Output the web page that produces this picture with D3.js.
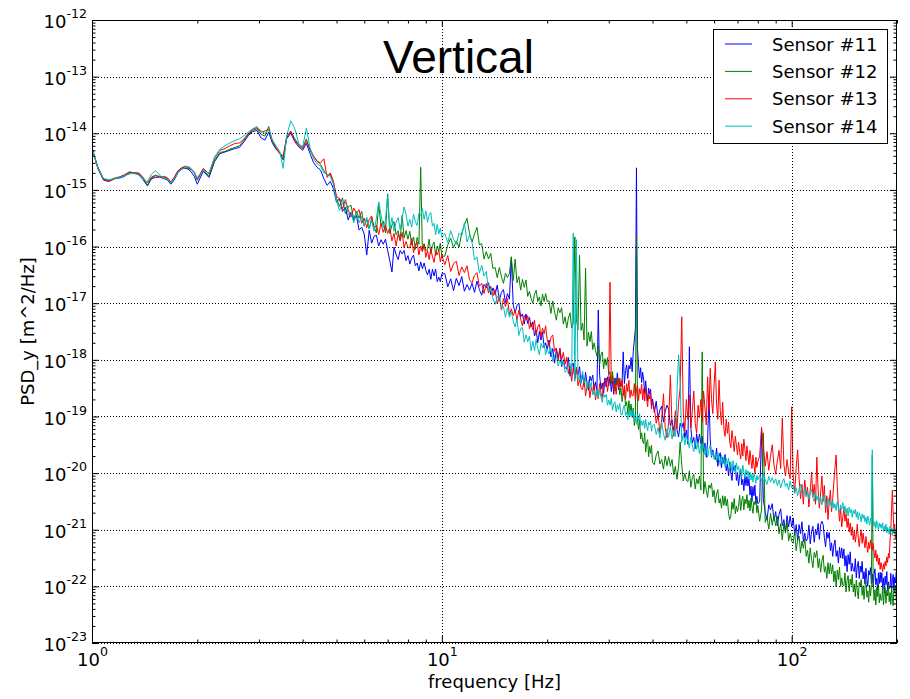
<!DOCTYPE html>
<html>
<head>
<meta charset="utf-8">
<script src="https://cdn.jsdelivr.net/npm/d3@7"></script>
<style>
  body { margin: 0; background: #fff; }
  svg { display: block; }
</style>
</head>
<body>
<svg id="chart" width="910" height="699"></svg>
<script>
// Frequency bins [Hz]
const freqHz = [
  1.00,1.04,1.08,1.12,1.16,1.20,1.24,1.28,1.32,1.36,1.40,1.44,1.48,1.52,1.56,1.60,1.64,1.68,1.72,1.76,1.80,1.84,1.88,1.92,1.96,2.00,
  2.08,2.16,2.24,2.32,2.40,2.48,2.56,2.64,2.72,2.80,2.88,2.96,3.04,3.12,3.20,3.28,3.36,3.44,3.52,3.60,
  3.7,3.8,3.9,4.0,4.1,4.2,4.3,4.4,4.5,4.6,4.7,4.8,4.9,5.0,
  5.1,5.2,5.3,5.4,5.5,5.6,5.7,5.8,5.9,6.0,6.1,6.2,6.3,6.4,6.5,6.6,6.7,6.8,6.9,7.0,
  7.1,7.2,7.3,7.4,7.5,7.6,7.7,7.8,7.9,8.0,8.1,8.2,8.3,8.4,8.5,8.6,8.7,8.8,8.9,9.0,
  9.1,9.2,9.3,9.4,9.5,9.6,9.7,9.8,9.9,10.0,
  10.2,10.4,10.6,10.8,11.0,11.2,11.4,11.6,11.8,12.0,12.2,12.4,12.6,12.8,13.0,13.2,13.4,13.6,13.8,14.0,
  14.2,14.4,14.6,14.8,15.0,15.2,15.4,15.6,15.8,16.0,16.2,16.4,16.6,16.8,17.0,17.2,17.4,17.6,17.8,18.0,
  18.2,18.4,18.6,18.8,19.0,19.2,19.4,19.6,19.8,20.0,
  20.25,20.5,20.75,21.0,21.25,21.5,21.75,22.0,22.25,22.5,22.75,23.0,23.25,23.5,23.75,24.0,24.25,24.5,24.75,25.0,
  25.25,25.5,25.75,26.0,26.25,26.5,26.75,27.0,27.25,27.5,27.75,28.0,28.25,28.5,28.75,29.0,29.25,29.5,29.75,30.0,
  30.25,30.5,30.75,31.0,31.25,31.5,31.75,32.0,32.25,32.5,32.75,33.0,33.25,33.5,33.75,34.0,34.25,34.5,34.75,35.0,
  35.25,35.5,35.75,36.0,36.25,36.5,36.75,37.0,37.25,37.5,37.75,38.0,38.25,38.5,38.75,39.0,39.25,39.5,39.75,40.0,
  40.5,41,41.5,42,42.5,43,43.5,44,44.5,45,45.5,46,46.5,47,47.5,48,48.5,49,49.5,50,
  50.5,51,51.5,52,52.5,53,53.5,54,54.5,55,55.5,56,56.5,57,57.5,58,58.5,59,59.5,60,
  60.5,61,61.5,62,62.5,63,63.5,64,64.5,65,65.5,66,66.5,67,67.5,68,68.5,69,69.5,70,
  70.5,71,71.5,72,72.5,73,73.5,74,74.5,75,75.5,76,76.5,77,77.5,78,78.5,79,79.5,80,
  81,82,83,84,85,86,87,88,89,90,91,92,93,94,95,96,97,98,99,100,
  101,102,103,104,105,106,107,108,109,110,111,112,113,114,115,116,117,118,119,120,
  121,122,123,124,125,126,127,128,129,130,131,132,133,134,135,136,137,138,139,140,
  141,142,143,144,145,146,147,148,149,150,151,152,153,154,155,156,157,158,159,160,
  161,162,163,164,165,166,167,168,169,170,171,172,173,174,175,176,177,178,179,180,
  181,182,183,184,185,186,187,188,189,190,191,192,193,194,195,196,197,198,199
];

// log10 of PSD_y [m^2/Hz], one value per frequency bin
const sensor11 = [
  -14.25,-14.63,-14.83,-14.85,-14.80,-14.79,-14.76,-14.69,-14.71,-14.73,-14.82,-14.93,-14.80,-14.78,-14.77,-14.80,-14.82,-14.90,-14.82,-14.70,-14.63,-14.62,-14.63,-14.68,-14.76,-14.90,
  -14.67,-14.78,-14.50,-14.36,-14.33,-14.30,-14.27,-14.25,-14.15,-14.04,-13.97,-13.95,-14.08,-14.12,-13.98,-14.18,-14.28,-14.35,-14.47,-14.10,
  -14.00,-14.15,-14.24,-14.30,-14.18,-14.36,-14.52,-14.60,-14.65,-14.80,-14.92,-14.85,-14.98,-15.22,
  -15.15,-15.38,-15.31,-15.53,-15.39,-15.54,-15.45,-15.71,-15.66,-15.78,-16.15,-15.71,-15.94,-15.82,-15.80,-15.99,-15.88,-15.96,-15.87,-16.07,
  -16.25,-16.45,-16.01,-16.14,-16.23,-16.07,-16.13,-16.07,-16.25,-16.16,-16.31,-16.20,-16.15,-16.34,-16.29,-16.43,-16.27,-16.39,-16.29,-16.42,
  -16.50,-16.40,-16.58,-16.40,-16.52,-16.40,-16.62,-16.54,-16.62,-16.48,
  -16.48,-16.71,-16.57,-16.78,-16.56,-16.69,-16.53,-16.79,-16.67,-16.77,-16.65,-16.81,-16.61,-16.76,-16.86,-16.67,-16.73,-16.64,-16.85,-16.73,
  -16.85,-16.68,-16.95,-16.81,-16.76,-16.99,-16.83,-16.93,-16.20,-17.04,-17.17,-17.04,-17.00,-17.24,-17.19,-17.37,-17.19,-17.36,-17.25,-17.42,
  -17.33,-17.58,-17.47,-17.70,-17.50,-17.65,-17.51,-17.79,-17.70,-17.82,
  -17.65,-17.95,-17.80,-18.06,-17.81,-17.98,-17.80,-18.12,-18.00,-18.14,-18.16,-17.96,-18.29,-18.11,-18.06,-18.34,-18.16,-18.27,-18.12,-18.41,
  -18.26,-18.47,-18.22,-18.41,-18.54,-18.29,-18.37,-18.27,-18.53,-18.39,-18.57,-17.12,-18.27,-18.52,-18.41,-18.59,-18.32,-18.48,-18.30,-18.46,
  -18.30,-18.56,-18.37,-18.61,-18.32,-18.45,-18.23,-18.53,-18.37,-18.47,-18.38,-17.86,-18.42,-18.19,-18.09,-18.33,-18.10,-18.16,-17.96,-18.21,
  -17.85,-17.65,-17.45,-14.61,-17.80,-18.10,-18.32,-18.14,-18.40,-18.22,-18.36,-18.59,-18.37,-18.58,-18.73,-18.50,-18.60,-18.52,-18.81,-18.69,
  -18.93,-18.73,-19.05,-18.88,-18.82,-19.10,-18.91,-18.80,-18.87,-19.16,-19.06,-19.27,-19.03,-19.23,-19.36,-19.12,-19.20,-19.11,-19.38,-19.24,
  -19.49,-17.77,-19.21,-19.47,-19.37,-19.57,-19.31,-19.48,-19.31,-19.48,-19.35,-19.63,-19.47,-19.72,-19.45,-18.62,-19.41,-19.72,-19.59,-19.71,
  -19.76,-19.56,-19.88,-19.70,-19.64,-19.91,-19.72,-19.83,-19.67,-19.96,-19.84,-20.05,-19.81,-20.00,-20.13,-19.88,-19.96,-19.86,-20.13,-19.99,
  -20.22,-20.03,-19.95,-20.21,-20.11,-20.31,-20.05,-20.22,-20.06,-20.23,-20.10,-20.39,-20.23,-20.50,-20.24,-20.40,-20.21,-20.54,-20.41,-20.54,
  -20.51,-19.24,-20.47,-20.69,-20.83,-20.56,-20.65,-20.54,-20.84,-20.68,-20.93,-20.73,-20.63,-20.93,-20.82,-21.04,-20.75,-20.95,-20.76,-20.95,
  -20.79,-21.10,-20.91,-21.20,-20.91,-21.07,-20.86,-21.21,-21.06,-21.20,-21.16,-20.92,-21.25,-21.03,-20.94,-21.22,-20.99,-21.09,-20.89,-21.17,
  -20.91,-20.85,-20.91,-21.14,-21.30,-21.04,-21.15,-21.05,-21.37,-21.23,-21.47,-21.27,-21.18,-21.47,-21.37,-21.59,-21.31,-21.50,-21.32,-21.51,
  -21.34,-21.64,-21.46,-21.74,-21.44,-21.61,-21.39,-21.73,-21.59,-21.72,-21.74,-21.51,-21.85,-21.64,-21.56,-21.86,-21.64,-21.75,-21.56,-21.87,
  -21.74,-21.96,-21.68,-21.87,-22.00,-21.72,-21.80,-21.67,-21.95,-21.78,-22.01,-21.79,-21.69,-21.97,-21.86,-22.06,-21.76,-21.95,-21.75,-21.93,
  -21.76,-22.05,-21.85,-22.12,-21.82,-21.97,-21.74,-22.07,-21.92,-22.04,-22.01,-21.77,-22.10,-21.88,-21.79,-22.07,-21.84,-21.94,-21.74
];
const sensor12 = [
  -14.28,-14.60,-14.81,-14.83,-14.79,-14.77,-14.74,-14.71,-14.69,-14.71,-14.79,-14.92,-14.79,-14.75,-14.76,-14.78,-14.79,-14.89,-14.79,-14.67,-14.61,-14.60,-14.62,-14.64,-14.70,-14.83,
  -14.64,-14.76,-14.48,-14.34,-14.32,-14.28,-14.25,-14.22,-14.12,-14.02,-13.95,-13.92,-14.02,-14.05,-13.88,-14.16,-14.27,-14.34,-14.45,-14.08,
  -13.97,-14.10,-14.20,-14.25,-14.10,-14.30,-14.42,-14.48,-14.55,-14.66,-14.74,-14.72,-14.88,-15.15,
  -15.29,-15.14,-15.42,-15.30,-15.27,-15.52,-15.38,-15.50,-15.38,-15.64,-15.52,-15.69,-15.49,-15.65,-15.76,-15.26,-15.63,-15.55,-15.76,-15.07,
  -15.77,-15.62,-15.56,-15.79,-15.72,-15.89,-15.45,-15.85,-15.72,-15.87,-15.73,-15.97,-15.83,-16.05,-15.84,-15.96,-14.60,-16.08,-15.96,-16.07,
  -16.05,-15.87,-16.13,-15.98,-15.92,-16.16,-15.99,-16.08,-15.94,-16.17,
  -16.17,-15.97,-15.85,-16.02,-15.90,-16.01,-15.76,-15.62,-15.50,-15.77,-15.92,-15.78,-15.66,-15.97,-15.95,-16.22,-16.09,-16.22,-16.12,-16.39,
  -16.37,-16.55,-16.37,-16.53,-16.65,-16.47,-16.55,-16.47,-16.18,-16.60,-16.22,-16.64,-16.53,-16.77,-16.58,-16.72,-16.59,-16.88,-16.79,-16.92,
  -17.00,-16.84,-16.77,-16.97,-16.89,-17.05,-16.84,-16.97,-16.83,-16.97,
  -16.96,-17.18,-16.96,-17.16,-17.30,-17.08,-17.17,-17.08,-17.37,-17.24,-17.44,-17.26,-17.17,-17.44,-17.35,-15.83,-17.29,-17.47,-16.15,-17.48,
  -17.35,-17.65,-16.38,-17.76,-17.51,-17.68,-17.50,-17.82,-17.70,-17.84,-17.93,-17.74,-18.08,-17.91,-17.86,-18.16,-17.98,-18.10,-17.96,-18.26,
  -18.21,-18.43,-18.21,-18.41,-18.55,-18.33,-18.42,-18.33,-18.62,-18.49,-18.74,-18.58,-18.52,-18.81,-18.74,-18.95,-18.72,-18.92,-18.78,-18.98,
  -18.85,-19.16,-19.02,-15.80,-19.06,-19.23,-19.06,-19.40,-19.29,-19.44,-19.48,-19.29,-19.63,-19.46,-19.41,-19.71,-19.53,-19.65,-19.51,-19.81,
  -19.85,-19.68,-19.61,-19.84,-19.76,-19.93,-19.70,-19.87,-19.71,-19.88,-19.76,-20.03,-19.88,-20.11,-19.88,-19.45,-19.85,-20.14,-20.01,-20.13,
  -20.15,-19.96,-20.25,-20.08,-20.02,-20.28,-20.10,-20.19,-20.05,-20.30,-17.86,-20.37,-20.15,-20.31,-20.43,-20.21,-20.27,-20.18,-20.42,-20.30,
  -20.53,-20.37,-20.29,-20.53,-20.45,-20.62,-20.40,-20.57,-20.41,-20.58,-20.46,-20.71,-20.82,-20.76,-20.51,-20.64,-20.45,-20.72,-20.58,-20.68,
  -20.59,-20.39,-20.66,-20.48,-20.41,-20.65,-20.46,-20.54,-20.38,-20.62,-20.48,-20.67,-20.44,-20.60,-20.71,-20.50,-20.56,-20.46,-20.70,-20.57,
  -20.85,-20.65,-19.29,-20.87,-20.77,-20.99,-20.71,-20.92,-20.74,-20.93,-20.76,-21.07,-20.89,-21.18,-20.89,-21.06,-20.85,-21.20,-21.06,-21.20,
  -21.24,-21.02,-21.37,-21.18,-21.11,-21.41,-21.20,-21.33,-21.15,-21.47,-21.36,-21.59,-21.32,-21.53,-21.67,-21.40,-21.49,-21.37,-21.67,-21.51,
  -21.75,-21.55,-21.45,-21.75,-21.65,-21.86,-21.58,-21.78,-21.59,-21.78,-21.62,-21.92,-21.73,-22.01,-21.71,-21.88,-21.66,-22.00,-21.85,-21.98,
  -21.99,-21.76,-22.10,-21.89,-21.81,-22.09,-21.87,-21.98,-21.79,-22.10,-21.96,-22.18,-21.89,-22.08,-22.22,-21.93,-22.00,-21.88,-22.16,-21.99,
  -22.23,-22.01,-21.90,-22.19,-22.08,-22.28,-21.98,-22.17,-21.97,-19.68,-21.96,-22.25,-22.06,-22.33,-22.02,-22.18,-21.95,-22.29,-22.13,-22.25,
  -22.24,-22.00,-22.33,-22.11,-22.02,-22.30,-22.07,-22.17,-21.97,-22.27,-22.11,-22.32,-22.03,-22.22,-22.34,-22.05,-22.12,-21.98,-22.26
];
const sensor13 = [
  -14.27,-14.61,-14.82,-14.84,-14.81,-14.77,-14.73,-14.68,-14.70,-14.70,-14.78,-14.88,-14.77,-14.74,-14.78,-14.76,-14.78,-14.86,-14.77,-14.66,-14.62,-14.58,-14.60,-14.63,-14.68,-14.80,
  -14.62,-14.72,-14.44,-14.30,-14.27,-14.22,-14.18,-14.17,-14.10,-14.00,-13.93,-13.90,-13.98,-13.96,-13.93,-14.13,-14.25,-14.36,-14.40,-14.06,
  -13.96,-14.12,-14.22,-14.27,-14.14,-14.28,-14.40,-14.50,-14.52,-14.45,-14.78,-14.70,-14.85,-15.12,
  -15.15,-15.34,-15.17,-15.35,-15.48,-15.32,-15.41,-15.35,-15.59,-15.50,-15.67,-15.52,-15.46,-15.69,-15.62,-15.79,-15.59,-15.75,-15.62,-15.77,
  -15.66,-15.90,-15.77,-15.99,-15.78,-15.90,-15.75,-16.02,-15.91,-16.02,-16.02,-15.85,-16.11,-15.97,-15.92,-16.15,-15.99,-16.09,-15.95,-16.19,
  -16.07,-16.23,-16.03,-16.18,-16.28,-16.09,-16.15,-16.06,-16.27,-16.15,
  -16.32,-16.16,-16.44,-16.30,-16.26,-16.51,-16.36,-16.46,-16.34,-16.59,-16.64,-16.51,-16.46,-16.70,-16.65,-16.83,-16.65,-16.82,-16.70,-16.87,
  -16.76,-17.01,-16.89,-17.12,-16.92,-17.06,-16.92,-17.20,-17.10,-17.22,-17.12,-17.30,-17.12,-17.28,-17.40,-17.22,-17.30,-17.22,-17.45,-17.35,
  -17.47,-17.30,-17.56,-17.42,-17.37,-17.60,-17.44,-17.54,-17.40,-17.64,
  -17.76,-17.61,-17.56,-17.85,-17.79,-18.02,-17.80,-18.00,-17.87,-18.08,-17.95,-18.25,-18.11,-18.38,-18.13,-18.31,-18.13,-18.46,-18.35,-18.49,
  -18.53,-18.33,-18.64,-18.46,-18.40,-18.67,-18.48,-18.59,-18.42,-18.71,-18.51,-18.69,-18.42,-18.58,-18.68,-18.40,-18.45,-18.32,-18.56,-18.39,
  -16.63,-18.39,-18.29,-18.54,-18.43,-18.61,-18.34,-18.50,-18.32,-18.48,-18.35,-18.63,-18.45,-18.70,-18.42,-18.56,-18.36,-18.67,-18.53,-18.64,
  -18.63,-18.42,-18.72,-18.53,-18.45,-18.72,-18.51,-18.60,-18.43,-18.71,-18.51,-18.73,-18.50,-18.69,-18.83,-18.60,-18.69,-18.59,-18.87,-18.74,
  -18.85,-19.12,-18.95,-19.30,-19.05,-18.60,-19.20,-19.38,-19.10,-18.27,-19.15,-19.35,-18.90,-19.22,-18.75,-18.50,-17.24,-18.95,-19.25,-18.70,
  -19.05,-18.62,-19.20,-18.90,-18.55,-19.12,-19.30,-18.80,-19.02,-18.70,-19.10,-18.55,-18.85,-19.15,-18.30,-18.90,-18.15,-18.70,-18.95,-18.45,
  -18.04,-18.80,-19.05,-18.36,-18.90,-19.15,-18.75,-19.22,-19.35,-19.05,-19.30,-19.10,-19.45,-19.55,-19.25,-19.42,-19.62,-19.35,-19.50,-19.68,
  -19.45,-19.62,-19.75,-19.48,-19.70,-19.40,-19.58,-19.78,-19.52,-19.70,-19.85,-19.60,-19.78,-19.92,-19.68,-19.86,-20.00,-19.72,-19.90,-19.80,
  -19.70,-19.19,-19.55,-19.88,-19.62,-19.95,-19.70,-19.50,-19.86,-20.02,-19.78,-19.60,-19.92,-19.03,-19.85,-20.05,-19.76,-19.98,-20.10,-18.83,
  -20.05,-20.35,-19.90,-19.59,-20.10,-20.45,-20.20,-20.55,-20.12,-20.40,-20.25,-20.60,-20.30,-19.98,-20.42,-20.20,-20.55,-19.72,-20.30,-20.62,
  -20.35,-20.05,-20.50,-20.22,-20.70,-20.40,-20.82,-20.52,-20.30,-20.68,-20.45,-20.15,-19.90,-19.68,-20.25,-20.60,-20.85,-20.62,-20.95,-20.78,
  -20.62,-20.85,-20.72,-20.96,-20.80,-21.04,-20.88,-21.10,-20.95,-21.18,-21.02,-21.22,-21.08,-20.90,-21.15,-21.30,-21.12,-21.00,-21.24,-21.06,
  -21.20,-21.32,-21.12,-21.28,-21.40,-21.22,-21.34,-21.18,-21.30,-21.36,-21.24,-21.40,-21.50,-21.36,-21.56,-21.44,-21.62,-21.50,-21.70,-21.58,
  -21.66,-21.74,-21.60,-21.70,-21.56,-21.64,-21.48,-21.58,-21.42,-21.50,-21.20,-21.00,-20.62,-20.30,-20.70,-21.05,-20.90,-21.15,-21.00
];
const sensor14 = [
  -14.26,-14.62,-14.80,-14.82,-14.80,-14.78,-14.75,-14.72,-14.70,-14.74,-14.80,-14.86,-14.72,-14.66,-14.74,-14.79,-14.81,-14.88,-14.80,-14.70,-14.64,-14.61,-14.58,-14.62,-14.70,-14.78,
  -14.66,-14.70,-14.42,-14.28,-14.22,-14.17,-14.13,-14.10,-14.04,-13.98,-13.92,-13.88,-13.96,-14.00,-13.94,-14.12,-14.22,-14.32,-14.62,-14.05,
  -13.78,-13.92,-14.18,-14.24,-13.91,-14.25,-14.45,-14.54,-14.58,-14.70,-14.72,-14.76,-14.90,-15.20,
  -15.36,-15.23,-15.19,-15.44,-15.39,-15.58,-15.40,-15.58,-15.47,-15.64,-15.48,-15.69,-15.54,-15.73,-15.50,-15.21,-15.43,-15.67,-15.54,-15.10,
  -15.69,-15.49,-15.73,-15.57,-15.49,-15.70,-15.51,-15.30,-15.43,-15.64,-15.52,-15.66,-15.43,-15.56,-15.63,-15.41,-15.45,-15.33,-15.52,-15.37,
  -15.57,-15.44,-15.40,-15.64,-15.59,-15.79,-15.61,-15.78,-15.67,-15.84,
  -15.77,-15.93,-15.72,-15.87,-15.96,-15.76,-15.81,-15.58,-15.92,-15.80,-15.93,-16.24,-16.18,-16.47,-16.33,-16.52,-16.44,-16.78,-16.74,-16.92,
  -17.02,-16.89,-16.86,-17.10,-17.06,-17.25,-17.08,-17.25,-17.15,-17.32,-17.42,-17.27,-17.57,-17.45,-17.43,-17.69,-17.56,-17.68,-17.58,-17.84,
  -17.67,-17.84,-17.64,-17.80,-17.91,-17.71,-17.78,-17.70,-17.91,-17.80,
  -17.90,-17.79,-18.03,-17.92,-17.90,-18.11,-18.00,-18.09,-18.01,-18.22,-18.19,-18.09,-18.06,-18.26,-15.76,-18.38,-15.88,-18.36,-18.28,-18.42,
  -18.20,-18.41,-18.33,-18.52,-18.36,-18.50,-18.39,-18.62,-18.56,-18.66,-18.52,-18.67,-18.52,-18.66,-18.75,-18.60,-18.66,-18.61,-18.80,-18.71,
  -18.80,-18.68,-18.89,-18.77,-18.74,-18.92,-18.80,-18.88,-18.77,-18.97,-18.97,-18.85,-18.80,-18.98,-18.92,-19.06,-18.89,-19.00,-18.90,-19.02,
  -18.88,-19.07,-18.97,-19.14,-18.96,-19.08,-18.95,-19.16,-19.08,-19.16,-19.07,-19.21,-19.05,-19.17,-19.25,-19.10,-19.15,-19.08,-19.26,-19.16,
  -19.14,-19.32,-19.20,-19.38,-19.10,-19.30,-19.42,-19.22,-19.36,-19.18,-19.40,-19.24,-19.36,-18.60,-17.91,-18.40,-19.46,-19.30,-19.50,-19.34,
  -19.44,-19.56,-19.36,-19.52,-19.62,-19.42,-19.58,-19.46,-19.66,-19.50,-19.60,-19.48,-19.68,-19.54,-19.72,-19.58,-19.50,-19.70,-19.62,-19.76,
  -19.66,-19.80,-19.64,-19.76,-19.86,-19.68,-19.82,-19.72,-19.90,-19.74,-19.84,-19.74,-19.92,-19.80,-19.96,-19.78,-19.90,-20.00,-19.82,-19.94,
  -19.88,-20.02,-19.92,-20.06,-19.86,-19.98,-20.08,-19.94,-20.04,-19.96,-20.10,-19.98,-20.12,-20.02,-20.16,-20.00,-20.08,-20.18,-20.04,-20.12,
  -20.04,-20.14,-20.02,-20.12,-20.20,-20.06,-20.16,-20.08,-20.18,-20.10,-20.22,-20.12,-20.26,-20.16,-20.10,-20.24,-20.18,-20.30,-20.14,-20.26,
  -20.22,-20.36,-20.26,-20.40,-20.28,-20.20,-20.34,-20.38,-20.26,-20.42,-20.32,-20.46,-20.36,-20.28,-20.44,-20.50,-20.34,-20.48,-20.40,-20.52,
  -20.42,-20.56,-20.46,-20.38,-20.54,-20.60,-20.44,-20.56,-20.50,-20.62,-20.48,-20.62,-20.54,-20.66,-20.50,-20.60,-20.70,-20.56,-20.64,-20.52,
  -20.66,-20.58,-20.72,-20.62,-20.76,-20.60,-20.70,-20.64,-20.78,-20.66,-20.72,-20.64,-20.78,-20.68,-20.82,-20.70,-20.76,-20.86,-20.72,-20.80,
  -20.74,-20.86,-20.78,-20.90,-20.76,-20.84,-20.92,-20.80,-20.88,-19.59,-20.82,-20.94,-20.86,-20.98,-20.84,-20.92,-21.00,-20.88,-20.96,-20.90,
  -20.98,-20.88,-21.04,-20.94,-21.02,-20.90,-21.06,-20.96,-21.00,-21.08,-20.94,-21.04,-20.98,-21.10,-20.96,-21.06,-21.00,-21.08,-21.02
];

const sensorNames = ["Sensor #11", "Sensor #12", "Sensor #13", "Sensor #14"];
const yTickExponents = [-12, -13, -14, -15, -16, -17, -18, -19, -20, -21, -22, -23];
const xTickExponents = [0, 1, 2];

// ---- styling ----
const lineColors = ["#0000ff", "#008000", "#ff0000", "#00bfbf"];
const FONT = "'DejaVu Sans', 'Bitstream Vera Sans', sans-serif";

const svg = d3.select("#chart");
const plot = { left: 92, right: 897, top: 20, bottom: 643 };

const x = d3.scaleLog().domain([1, 200]).range([plot.left, plot.right]);
const y = d3.scaleLog().domain([1e-23, 1e-12]).range([plot.bottom, plot.top]);

svg.append("rect").attr("width", 910).attr("height", 699).attr("fill", "#fff");

svg.append("defs").append("clipPath").attr("id", "plot-clip")
  .append("rect")
  .attr("x", plot.left).attr("y", plot.top)
  .attr("width", plot.right - plot.left).attr("height", plot.bottom - plot.top);

// ---- data lines ----
const sensorValues = [sensor11, sensor12, sensor13, sensor14];
const line = d3.line().x(d => x(d.f)).y(d => y(d.p));
const linesG = svg.append("g").attr("clip-path", "url(#plot-clip)");
sensorValues.forEach((vals, i) => {
  const rows = freqHz.map((f, k) => ({ f: f, p: Math.pow(10, vals[k]) }))
    .filter(r => isFinite(r.p));
  linesG.append("path")
    .datum(rows)
    .attr("d", line)
    .attr("fill", "none")
    .attr("stroke", lineColors[i])
    .attr("stroke-width", 1)
    .attr("stroke-linejoin", "round");
});

// ---- dotted grid at the decades ----
const xMajor = xTickExponents.map(e => Math.pow(10, e));
const yMajor = yTickExponents.map(e => Math.pow(10, e));
const gridG = svg.append("g").attr("stroke", "#000").attr("stroke-width", 1)
  .attr("stroke-dasharray", "1,2").attr("shape-rendering", "crispEdges");
gridG.selectAll(".gx").data(xMajor).enter().append("line")
  .attr("x1", d => Math.round(x(d)) + 0.5).attr("x2", d => Math.round(x(d)) + 0.5)
  .attr("y1", plot.top).attr("y2", plot.bottom);
gridG.selectAll(".gy").data(yMajor).enter().append("line")
  .attr("y1", d => Math.round(y(d)) + 0.5).attr("y2", d => Math.round(y(d)) + 0.5)
  .attr("x1", plot.left).attr("x2", plot.right);

// ---- minor tick positions ----
const xMinor = [];
for (let e = 0; e <= 2; e++) for (let m = 2; m <= 9; m++) {
  const v = m * Math.pow(10, e);
  if (v <= 200) xMinor.push(v);
}
const yMinor = [];
for (let e = -23; e <= -13; e++) for (let m = 2; m <= 9; m++) yMinor.push(m * Math.pow(10, e));

function styleAxis(g) {
  g.select(".domain").remove();
  g.selectAll(".tick line").attr("stroke", "#000").attr("stroke-width", 1);
  g.selectAll("text").attr("font-family", FONT).attr("font-size", 18).attr("fill", "#000");
}

function powerLabel(sel) {
  sel.each(function (d) {
    const t = d3.select(this);
    const e = Math.round(Math.log10(d));
    t.text(null);
    t.append("tspan").text("10");
    t.append("tspan").attr("dy", -10).attr("font-size", 12.6).text(String(e));
  });
}

// bottom
const gBottom = svg.append("g").attr("transform", `translate(0,${plot.bottom})`)
  .call(d3.axisBottom(x).tickValues(xMajor).tickSize(-7).tickSizeOuter(0).tickPadding(0));
styleAxis(gBottom);
gBottom.selectAll(".tick text").attr("y", 23).attr("dy", 0).call(powerLabel);
svg.append("g").attr("transform", `translate(0,${plot.bottom})`)
  .call(d3.axisBottom(x).tickValues(xMinor).tickSize(-3.5).tickSizeOuter(0).tickFormat(""))
  .call(styleAxis);

// top
svg.append("g").attr("transform", `translate(0,${plot.top})`)
  .call(d3.axisTop(x).tickValues(xMajor).tickSize(-7).tickSizeOuter(0).tickFormat(""))
  .call(styleAxis);
svg.append("g").attr("transform", `translate(0,${plot.top})`)
  .call(d3.axisTop(x).tickValues(xMinor).tickSize(-3.5).tickSizeOuter(0).tickFormat(""))
  .call(styleAxis);

// left
const gLeft = svg.append("g").attr("transform", `translate(${plot.left},0)`)
  .call(d3.axisLeft(y).tickValues(yMajor).tickSize(-7).tickSizeOuter(0).tickPadding(5));
styleAxis(gLeft);
gLeft.selectAll(".tick text").attr("dy", "0.42em").call(powerLabel);
svg.append("g").attr("transform", `translate(${plot.left},0)`)
  .call(d3.axisLeft(y).tickValues(yMinor).tickSize(-3.5).tickSizeOuter(0).tickFormat(""))
  .call(styleAxis);

// right
svg.append("g").attr("transform", `translate(${plot.right},0)`)
  .call(d3.axisRight(y).tickValues(yMajor).tickSize(-7).tickSizeOuter(0).tickFormat(""))
  .call(styleAxis);
svg.append("g").attr("transform", `translate(${plot.right},0)`)
  .call(d3.axisRight(y).tickValues(yMinor).tickSize(-3.5).tickSizeOuter(0).tickFormat(""))
  .call(styleAxis);

// frame
svg.append("rect")
  .attr("x", plot.left + 0.5).attr("y", plot.top + 0.5)
  .attr("width", plot.right - plot.left - 1).attr("height", plot.bottom - plot.top - 1)
  .attr("fill", "none").attr("stroke", "#000").attr("stroke-width", 1);

// ---- title and axis labels ----
svg.append("text")
  .attr("x", 458.5).attr("y", 73)
  .attr("text-anchor", "middle")
  .attr("font-family", "'Liberation Sans', Arial, sans-serif")
  .attr("font-size", 46)
  .text("Vertical");

svg.append("text")
  .attr("x", (plot.left + plot.right) / 2).attr("y", 688)
  .attr("text-anchor", "middle")
  .attr("font-family", FONT).attr("font-size", 18)
  .text("frequency [Hz]");

svg.append("text")
  .attr("transform", `translate(34,${(plot.top + plot.bottom) / 2}) rotate(-90)`)
  .attr("text-anchor", "middle")
  .attr("font-family", FONT).attr("font-size", 18)
  .text("PSD_y [m^2/Hz]");

// ---- legend ----
const legend = svg.append("g");
legend.append("rect")
  .attr("x", 713.5).attr("y", 29.5).attr("width", 174).attr("height", 114)
  .attr("fill", "#fff").attr("stroke", "#000").attr("stroke-width", 1);
const rowStep = 27.4;
sensorNames.forEach((name, i) => {
  const cy = 44 + i * rowStep;
  legend.append("line")
    .attr("x1", 725).attr("x2", 752).attr("y1", cy).attr("y2", cy)
    .attr("stroke", lineColors[i]).attr("stroke-width", 1);
  legend.append("text")
    .attr("x", 772).attr("y", cy + 6.6)
    .attr("font-family", FONT).attr("font-size", 18)
    .text(name);
});
</script>
</body>
</html>
